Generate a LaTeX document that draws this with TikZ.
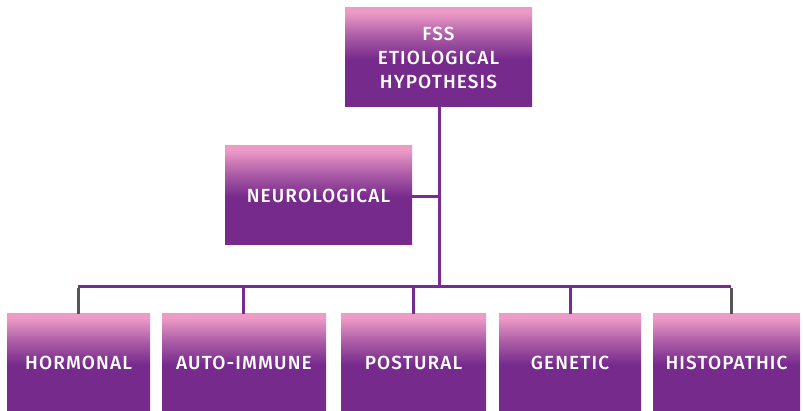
\documentclass[tikz,border=0pt]{standalone}
\usepackage{fontspec}
\setmainfont{Fira Sans Medium}[LetterSpace=6]
\definecolor{boxpurple}{RGB}{118,42,140}
\definecolor{boxpink}{RGB}{238,154,198}
\definecolor{linepurple}{RGB}{120,44,145}
\definecolor{linegrey}{RGB}{85,85,85}
\pgfdeclareverticalshading{boxshade}{100bp}{color(0bp)=(boxpurple); color(25bp)=(boxpurple); color(49bp)=(boxpurple); color(61bp)=(boxpurple!55!boxpink); color(73bp)=(boxpink); color(100bp)=(boxpink)}
\begin{document}
\begin{tikzpicture}[x=1pt,y=-1pt,
  box/.style={rectangle, shading=boxshade, draw=none, text=white, align=center,
    inner sep=0pt, font=\fontsize{19}{24}\selectfont},
  conn/.style={draw=linepurple, line width=3pt},
  connend/.style={draw=linegrey, line width=3pt}]
\useasboundingbox[fill=white] (0,0) rectangle (803,411);
\node[box, minimum width=187pt, minimum height=99pt] (top) at (438.5,57.5) {FSS\\ETIOLOGICAL\\HYPOTHESIS};
\node[box, minimum width=187pt, minimum height=99pt] (neuro) at (318.5,195.5) {NEUROLOGICAL};
\node[box, minimum width=143pt, minimum height=98pt] (hormonal) at (78.5,363) {HORMONAL};
\node[box, minimum width=164pt, minimum height=98pt] (auto) at (244,363) {AUTO-IMMUNE};
\node[box, minimum width=145pt, minimum height=98pt] (postural) at (413.5,363) {POSTURAL};
\node[box, minimum width=142pt, minimum height=98pt] (genetic) at (570,363) {GENETIC};
\node[box, minimum width=147pt, minimum height=98pt] (histo) at (726.5,363) {HISTOPATHIC};
\coordinate (trunktop) at (439,107);
\coordinate (busmid) at (439,287);
\coordinate (busleft) at (78,287);
\coordinate (busright) at (731,287);
\coordinate (neurojoin) at (439,197);
\draw[conn] (trunktop) -- (busmid);
\draw[conn] (neuro.east |- neurojoin) -- (neurojoin);
\draw[conn] (busleft) -- (busright);
\draw[connend] ([yshift=-1.5pt]busleft) -- (busleft |- hormonal.north);
\draw[connend] ([yshift=-1.5pt]busright) -- (busright |- histo.north);
\draw[conn] (243,287) -- (243,314);
\draw[conn] (postural.north |- busmid) -- (postural.north);
\draw[conn] (genetic.north |- busmid) -- (genetic.north);
\end{tikzpicture}
\end{document}
